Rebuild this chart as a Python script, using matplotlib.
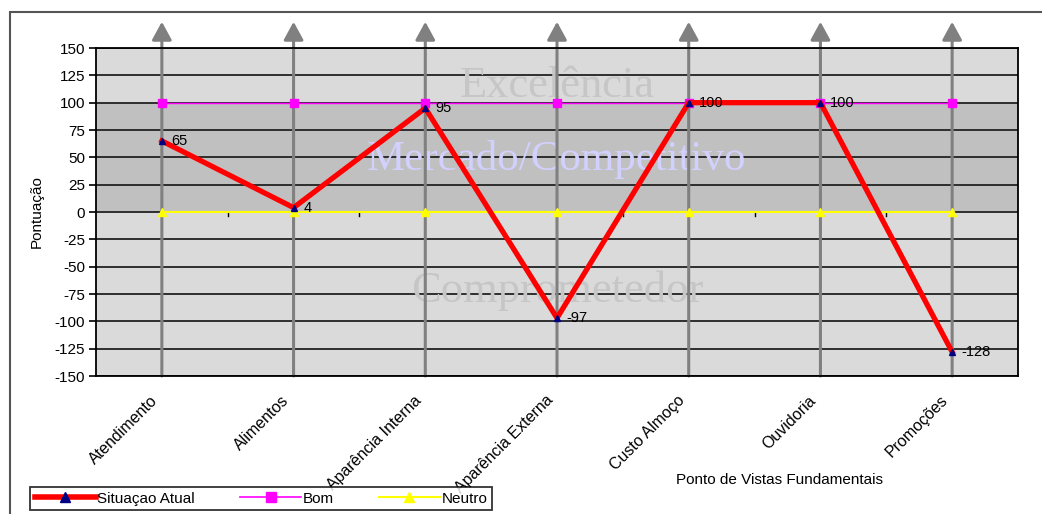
import matplotlib.pyplot as plt
from matplotlib.lines import Line2D
from matplotlib.patches import Rectangle
from matplotlib.transforms import ScaledTranslation

# categories and scores
categorias = ["Atendimento", "Alimentos", "Aparência Interna", "Aparência Externa",
              "Custo Almoço", "Ouvidoria", "Promoções"]
situacao_atual = [65, 4, 95, -97, 100, 100, -128]
bom = [100, 100, 100, 100, 100, 100, 100]
neutro = [0, 0, 0, 0, 0, 0, 0]
y_ticks = list(range(-150, 151, 25))

plt.rcParams['font.family'] = ['Liberation Sans', 'DejaVu Sans']
plt.rcParams['axes.unicode_minus'] = False

fig = plt.figure(figsize=(10.42, 5.14), dpi=100)
ax = fig.add_axes([96/1042, 1 - 376/514, (1018-96)/1042, (376-48)/514])

x = list(range(len(categorias)))

# background bands
ax.axhspan(100, 150, color='#dadada', zorder=0)
ax.axhspan(0, 100, color='#c0c0c0', zorder=0)
ax.axhspan(-150, 0, color='#dadada', zorder=0)

# horizontal gridlines
for t in y_ticks:
    ax.axhline(t, color='#222222', lw=1.3, zorder=1)

# zone labels
ax.text(3, 105, "Excelência", family='Liberation Serif', fontsize=32,
        color='#c6c6c6', ha='center', va='baseline', zorder=1.5)
ax.text(3, 38, "Mercado/Competitivo", family='Liberation Serif', fontsize=31,
        color='#d2d0ff', ha='center', va='baseline', zorder=1.5)
ax.text(3, -82, "Comprometedor", family='Liberation Serif', fontsize=32,
        color='#c6c6c6', ha='center', va='baseline', zorder=1.5)

# vertical arrows at each category
for xi in x:
    ax.annotate('', xy=(xi, 174), xytext=(xi, -150),
                arrowprops=dict(arrowstyle='-|>,head_length=0.55,head_width=0.3',
                                mutation_scale=20, color='#808080', lw=2.2,
                                shrinkA=0, shrinkB=0),
                annotation_clip=False, zorder=2)

# small category ticks on the zero line
for b in [i + 0.5 for i in range(len(categorias) - 1)]:
    ax.plot([b, b], [0, -4], color='black', lw=1, zorder=2.5)

ax.plot(x, neutro, color='#ffff00', lw=1.5, marker='^', ms=5.5,
        mfc='#ffff00', mec='#ffff00', zorder=3)
ax.plot(x, bom, color='#ff00ff', lw=1.0, marker='s', ms=6,
        mfc='#ff00ff', mec='#ff00ff', zorder=3)
ax.plot(x, situacao_atual, color='#ff0000', lw=3.8, marker='^', ms=5,
        mfc='#000080', mec='#000080', zorder=4)

for xi, v in zip(x, situacao_atual):
    ax.annotate(str(v), (xi, v), xytext=(7, 0), textcoords='offset points',
                ha='left', va='center', fontsize=10.5, zorder=5)

ax.set_xlim(-0.5, len(categorias) - 0.5)
ax.set_ylim(-150, 150)
ax.set_yticks(y_ticks)
ax.tick_params(axis='y', labelsize=11, length=5, width=1.2, pad=3)
ax.set_xticks(x)
ax.set_xticklabels(categorias, rotation=45, ha='right', va='top',
                   rotation_mode='anchor', fontsize=11.5)
ax.tick_params(axis='x', length=0, pad=12)
shift = ScaledTranslation(-12/100, 0, fig.dpi_scale_trans)
for lbl in ax.get_xticklabels():
    lbl.set_transform(lbl.get_transform() + shift)
for s in ax.spines.values():
    s.set_linewidth(1.3)
    s.set_color('black')

ax.set_ylabel("Pontuação", fontsize=11, labelpad=8)
fig.text(780/1042, 1 - 480/514, "Ponto de Vistas Fundamentais",
         ha='center', va='center', fontsize=11)

# outer chart border
fig.patches.append(Rectangle((10/1042, -0.1), 1.2, (1 - 12/514) + 0.1,
                             transform=fig.transFigure, fill=False,
                             edgecolor='#555555', lw=1.5))

handles = [
    Line2D([], [], color='#ff0000', lw=4, marker='^', ms=7, mfc='#000080', mec='#000080'),
    Line2D([], [], color='#ff00ff', lw=1.2, marker='s', ms=7, mfc='#ff00ff', mec='#ff00ff'),
    Line2D([], [], color='#ffff00', lw=1.5, marker='^', ms=7, mfc='#ffff00', mec='#ffff00'),
]
leg = fig.legend(handles, ["Situaçao Atual", "Bom", "Neutro"], ncol=3,
                 loc='upper left', mode='expand',
                 bbox_to_anchor=(30/1042, 0, 462/1042, 1 - 487/514),
                 frameon=True, fancybox=False, edgecolor='black', fontsize=11,
                 handlelength=4, handletextpad=0.1, borderpad=0.3,
                 borderaxespad=0)
leg.get_frame().set_linewidth(1.3)

fig.savefig("out.png", dpi=100)
